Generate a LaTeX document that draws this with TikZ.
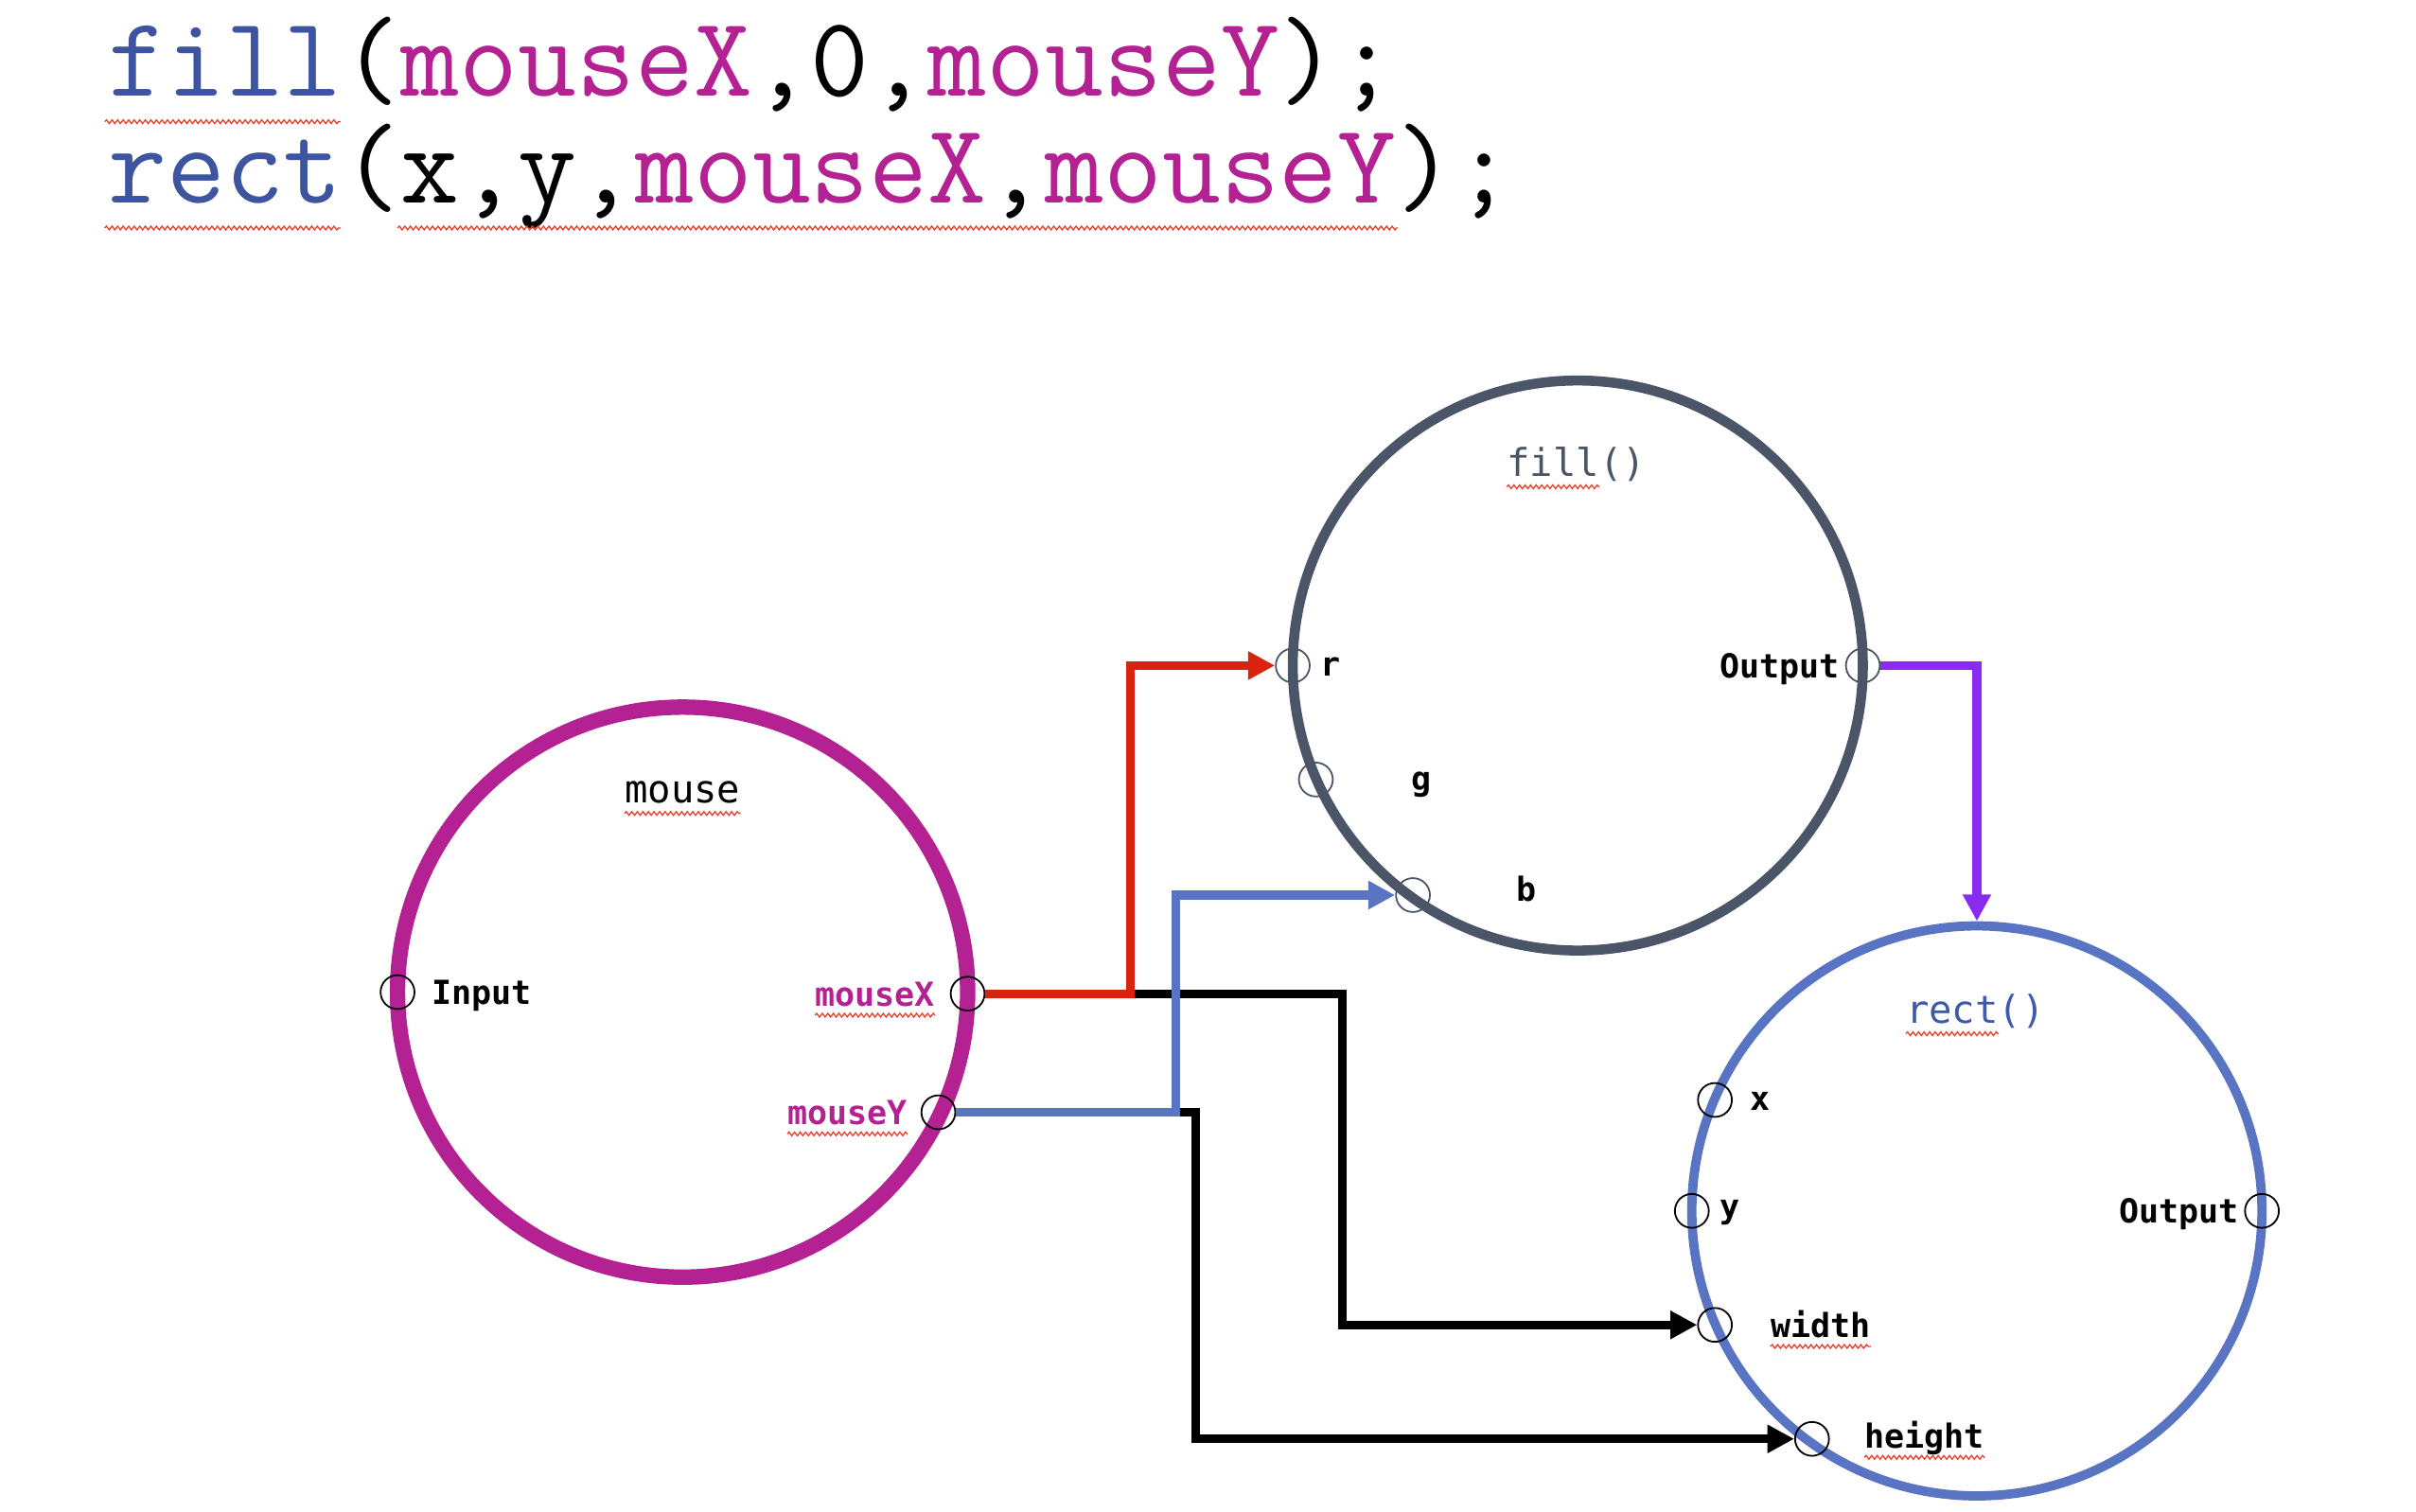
\documentclass[tikz,border=0pt]{standalone}
\usepackage{fontspec}
\setmainfont{DejaVu Sans Mono}
\newfontfamily\lblfont{DejaVu Sans Mono}
\usetikzlibrary{arrows.meta,decorations.pathmorphing}
\definecolor{mousec}{HTML}{B32192}
\definecolor{slatec}{HTML}{4A5568}
\definecolor{rectc}{HTML}{5874C2}
\definecolor{redc}{HTML}{D8230E}
\definecolor{purplec}{HTML}{8A2BF2}
\definecolor{codeblue}{HTML}{3D55A0}
\definecolor{rectlbl}{HTML}{3F5AA6}
\definecolor{squigc}{HTML}{E8402F}
\begin{document}
\begin{tikzpicture}[x=1pt,y=-1pt,
  bigcirc/.style={circle, inner sep=0pt, minimum size=370pt},
  port/.style={circle, draw=black, line width=1.1pt, minimum size=22pt, inner sep=0pt},
  fport/.style={port, draw=slatec},
  lbl/.style={font=\lblfont\bfseries\fontsize{21.5}{24}\selectfont, inner sep=0pt},
  ttl/.style={font=\lblfont\fontsize{24.9}{28}\selectfont, inner sep=0pt, anchor=base},
  codeline/.style={font=\ttfamily\fontsize{73.8}{80}\selectfont, inner sep=0pt, anchor=base west},
  squig/.style={draw=squigc, line width=0.8pt, decorate, decoration={snake, amplitude=1.2pt, segment length=3.6pt}},
  wire/.style={line width=5.7pt},
  arr/.style={-{Triangle[length=17.4pt,width=17.4pt]}}
]
\useasboundingbox (0,0) rectangle (1568,981);

% code lines
\node[codeline] (code1) at (70,62.5) {\textcolor{codeblue}{fill}(\textcolor{mousec}{mouseX},0,\textcolor{mousec}{mouseY});};
\node[codeline] (code2) at (70,131.5) {\textcolor{codeblue}{rect}(x,y,\textcolor{mousec}{mouseX},\textcolor{mousec}{mouseY});};
\draw[squig] (68,79) -- (221,79);
\draw[squig] (68,148) -- (221,148);
\draw[squig] (258,148) -- (907,148);

% big circles
\node[bigcirc, draw=mousec, line width=10pt] (mouse) at (443,644) {};
\node[bigcirc, draw=slatec, line width=6.5pt] (fill) at (1024,432) {};
\node[bigcirc, draw=rectc, line width=6pt] (rect) at (1283,786) {};

% ports
\node[port] (pIn) at (258,644) {};
\node[port] (pMX) at (628,645) {};
\node[port] (pMY) at (609,722) {};
\node[fport] (pR) at (839,432) {};
\node[fport] (pG) at (854,506) {};
\node[fport] (pB) at (917,581) {};
\node[fport] (pFO) at (1209,432) {};
\node[port] (pX) at (1113,714) {};
\node[port] (pY) at (1098,786) {};
\node[port] (pW) at (1113,860) {};
\node[port] (pH) at (1176,934) {};
\node[port] (pRO) at (1468,786) {};

% junction coordinates
\coordinate (jBlackA) at (871,645);
\coordinate (jRed) at (733.5,645);
\coordinate (jBlue) at (763,722);
\coordinate (jBlackB) at (776,722);

% connectors
\draw[wire, black, arr] (pMX.east) -- (jBlackA) |- (pW);
\draw[wire, black, arr] (pMY.east) -- (jBlackB) |- (pH);
\draw[wire, redc, arr] (pMX.east) -- (jRed) |- (pR);
\draw[wire, rectc, arr] (pMY.east) -- (jBlue) |- (pB);
\draw[wire, purplec, arr] (pFO.east) -| (rect.north);

% titles
\node[ttl] (tMouse) at (443,521) {mouse};
\node[ttl, text=slatec] (tFill) at (1023,309) {fill()};
\node[ttl, text=rectlbl] (tRect) at (1282,664) {rect()};
\draw[squig] ([yshift=-7pt]tMouse.base west) -- ([yshift=-7pt]tMouse.base east);
\draw[squig] ([yshift=-7pt]tFill.base west) -- ([yshift=-7pt,xshift=-30pt]tFill.base east);
\draw[squig] ([yshift=-7pt]tRect.base west) -- ([yshift=-7pt,xshift=-30pt]tRect.base east);

% port labels
\node[lbl, anchor=base west] (lIn) at (280,652) {Input};
\node[lbl, anchor=base east, text=mousec] (lMX) at (607,653) {mouseX};
\node[lbl, anchor=base east, text=mousec] (lMY) at (589,730) {mouseY};
\node[lbl, anchor=base west] (lR) at (857,439) {r};
\node[lbl, anchor=base west] (lG) at (916,513) {g};
\node[lbl, anchor=base west] (lB) at (984,585) {b};
\node[lbl, anchor=base east] (lFO) at (1194,440) {Output};
\node[lbl, anchor=base west] (lX) at (1136,721) {x};
\node[lbl, anchor=base west] (lY) at (1116,791) {y};
\node[lbl, anchor=base west] (lW) at (1149,868) {width};
\node[lbl, anchor=base west] (lH) at (1210,940) {height};
\node[lbl, anchor=base east] (lRO) at (1453,794) {Output};
\draw[squig] ([yshift=-6pt]lMX.base west) -- ([yshift=-6pt]lMX.base east);
\draw[squig] ([yshift=-6pt]lMY.base west) -- ([yshift=-6pt]lMY.base east);
\draw[squig] ([yshift=-6pt]lW.base west) -- ([yshift=-6pt]lW.base east);
\draw[squig] ([yshift=-6pt]lH.base west) -- ([yshift=-6pt]lH.base east);
\end{tikzpicture}
\end{document}
